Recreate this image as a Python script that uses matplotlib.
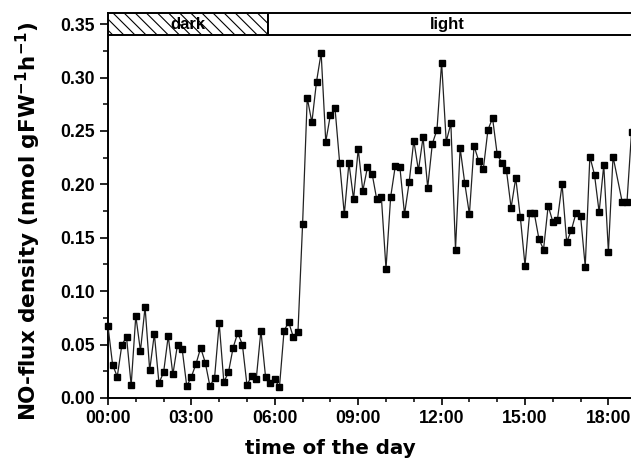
import numpy as np
import matplotlib
matplotlib.use("Agg")
import matplotlib.pyplot as plt
from matplotlib.patches import Rectangle
from matplotlib.ticker import MultipleLocator

# ---- data (NO-flux density, one reading every 10 min) ----
no_flux = [
    0.067, 0.031, 0.020, 0.050, 0.057, 0.012, 0.077, 0.044, 0.085, 0.026,
    0.060, 0.014, 0.024, 0.058, 0.022, 0.050, 0.046, 0.011, 0.020, 0.032,
    0.047, 0.033, 0.011, 0.019, 0.070, 0.015, 0.024, 0.047, 0.061, 0.050,
    0.012, 0.021, 0.018, 0.063, 0.020, 0.014, 0.0175, 0.010, 0.063, 0.071,
    0.057, 0.062, 0.163, 0.281, 0.258, 0.296, 0.323, 0.240, 0.265, 0.271,
    0.220, 0.172, 0.220, 0.186, 0.233, 0.194, 0.216, 0.210, 0.186, 0.188,
    0.121, 0.188, 0.217, 0.216, 0.172, 0.202, 0.241, 0.213, 0.244, 0.197,
    0.238, 0.251, 0.314, 0.240, 0.257, 0.139, 0.234, 0.201, 0.172, 0.236,
    0.222, 0.214, 0.251, 0.262, 0.228, 0.220, 0.213, 0.178, 0.206, 0.169,
    0.124, 0.173, 0.173, 0.149, 0.139, 0.180, 0.165, 0.167, 0.200, 0.146,
    0.157, 0.173, 0.170, 0.123, 0.226, 0.209, 0.174, 0.218, 0.137, 0.226,
    0.183, 0.183, 0.249,
]
# sampling times in minutes (10-min interval, 18:20 reading absent)
minutes_all = np.arange(0, 1140, 10)
minutes = minutes_all[minutes_all != 1100]
hours = minutes / 60.0

phases = ["dark", "light"]
phase_bounds = [(0.0, 5.75), (5.75, 19.0)]
phase_label_x = [2.875, 12.2]

x_tick_labels = ["00:00", "03:00", "06:00", "09:00", "12:00", "15:00", "18:00"]
x_tick_pos = [0, 3, 6, 9, 12, 15, 18]

# ---- figure ----
W, H = 631, 463
fig = plt.figure(figsize=(W / 100, H / 100), dpi=100)
ax = fig.add_axes([108 / W, (H - 398) / H, 528.2 / W, (398 - 13.4) / H])

ax.plot(hours, no_flux, color="#222222", lw=0.9, marker="s", ms=3.8,
        mfc="black", mec="black", clip_on=False, zorder=3)

ax.set_xlim(0, 19)
ax.set_ylim(0, 0.36)

tick_font = dict(family="Liberation Sans", weight="bold", size=12.7)
ax.set_xticks(x_tick_pos)
ax.set_xticklabels(x_tick_labels, **tick_font)
ax.xaxis.set_minor_locator(MultipleLocator(1))
ax.set_yticks(np.arange(0, 0.351, 0.05))
ax.set_yticklabels([f"{v:.2f}" for v in np.arange(0, 0.351, 0.05)], **tick_font)
ax.yaxis.set_minor_locator(MultipleLocator(0.025))

ax.tick_params(axis="y", which="major", direction="out", length=6, width=1.2, pad=3.5)
ax.tick_params(axis="y", which="minor", direction="out", length=3.5, width=1.1)
ax.tick_params(axis="x", which="major", direction="out", length=4.7, width=1.2, pad=4)
ax.tick_params(axis="x", which="minor", direction="out", length=2.6, width=1.1)

for s in ["left", "bottom", "top", "right"]:
    ax.spines[s].set_linewidth(1.4)

# dark / light bar
plt.rcParams["hatch.linewidth"] = 0.8
for name, (x0, x1), lx in zip(phases, phase_bounds, phase_label_x):
    r = Rectangle((x0, 0.34), x1 - x0, 0.02, facecolor="white",
                  edgecolor="black", lw=1.4, zorder=4,
                  hatch="\\\\\\" if name == "dark" else None)
    ax.add_patch(r)
    ax.text(lx, 0.3497, name, ha="center", va="center", zorder=5,
            family="Liberation Sans", weight="bold", size=12)

plt.rcParams["mathtext.fontset"] = "dejavusans"
fig.text(28 / W, 1 - 221 / H,
         r"NO-flux density (nmol gFW$^{\mathbf{-1}}$h$^{\mathbf{-1}}$)",
         rotation=90, ha="center", va="center",
         family="DejaVu Sans", weight="bold", size=15.5)
fig.text(330.5 / W, 1 - 449 / H, "time of the day", ha="center", va="center",
         family="DejaVu Sans", weight="bold", size=14.3)

fig.savefig("out.png", dpi=100)
